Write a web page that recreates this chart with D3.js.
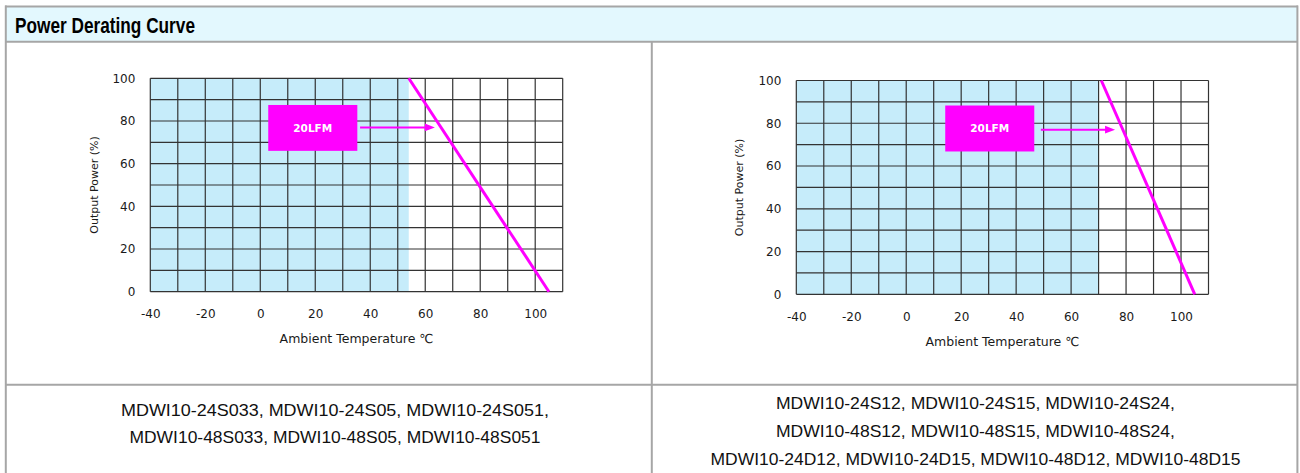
<!DOCTYPE html>
<html>
<head>
<meta charset="utf-8">
<script src="https://cdn.jsdelivr.net/npm/d3@7/dist/d3.min.js"></script>
<style>
  html, body { margin: 0; padding: 0; background: #ffffff; }
  svg { display: block; }
</style>
</head>
<body>
<svg id="chart" width="1300" height="473"></svg>
<script>
// ---------------- DATA ----------------
const pageTitle = "Power Derating Curve";
const xTickValues = [-40, -20, 0, 20, 40, 60, 80, 100];
const yTickValues = [0, 20, 40, 60, 80, 100];
const xGridValues = [-40, -30, -20, -10, 0, 10, 20, 30, 40, 50, 60, 70, 80, 90, 100, 110];
const yGridValues = [0, 10, 20, 30, 40, 50, 60, 70, 80, 90, 100];
const xAxisTitle = "Ambient Temperature \u2103";
const yAxisTitle = "Output Power (%)";
const airflowLabel = "20LFM";

// left chart derating curve
const leftTemps = [54, 105];
const leftPower = [100, 0];
const leftFullPowerLimit = 54;
// right chart derating curve
const rightTemps = [71, 105];
const rightPower = [100, 0];
const rightFullPowerLimit = 70;

const leftModels = [
  "MDWI10-24S033, MDWI10-24S05, MDWI10-24S051,",
  "MDWI10-48S033, MDWI10-48S05, MDWI10-48S051"
];
const rightModels = [
  "MDWI10-24S12, MDWI10-24S15, MDWI10-24S24,",
  "MDWI10-48S12, MDWI10-48S15, MDWI10-48S24,",
  "MDWI10-24D12, MDWI10-24D15, MDWI10-48D12, MDWI10-48D15"
];

// ---------------- LAYOUT ----------------
const svg = d3.select("#chart");
const borderColor = "#a6a6a6";
const gridColor = "#333333";
const shadeColor = "#c6ecfa";
const magenta = "#ff00ff";
const tickFont = "'DejaVu Sans', Verdana, sans-serif";

// table frame
svg.append("rect").attr("x", 6).attr("y", 7).attr("width", 1291).attr("height", 34)
  .attr("fill", "#e3f8fe");
const frame = svg.append("g").attr("stroke", borderColor).attr("stroke-width", 2).attr("fill", "none");
frame.append("line").attr("x1", 5).attr("x2", 1298).attr("y1", 6.5).attr("y2", 6.5);
frame.append("line").attr("x1", 5).attr("x2", 1298).attr("y1", 41.8).attr("y2", 41.8);
frame.append("line").attr("x1", 5).attr("x2", 1298).attr("y1", 384.8).attr("y2", 384.8);
frame.append("line").attr("x1", 5.8).attr("x2", 5.8).attr("y1", 5.5).attr("y2", 473);
frame.append("line").attr("x1", 1297.4).attr("x2", 1297.4).attr("y1", 5.5).attr("y2", 473);
frame.append("line").attr("x1", 651.8).attr("x2", 651.8).attr("y1", 41).attr("y2", 473);

svg.append("text").attr("x", 15).attr("y", 32.5)
  .attr("font-family", "'Liberation Sans', Arial, sans-serif")
  .attr("font-weight", "bold").attr("font-size", 22.5)
  .attr("textLength", 180).attr("lengthAdjust", "spacingAndGlyphs")
  .attr("fill", "#000").text(pageTitle);

// model lists
function modelBlock(lines, cx, baselines, widths) {
  lines.forEach((t, i) => {
    svg.append("text").attr("x", cx).attr("y", baselines[i])
      .attr("text-anchor", "middle")
      .attr("font-family", "'Liberation Sans', Arial, sans-serif")
      .attr("font-size", 17.3)
      .attr("textLength", widths[i]).attr("lengthAdjust", "spacingAndGlyphs")
      .attr("fill", "#111").text(t);
  });
}
modelBlock(leftModels, 335, [415.7, 443.3], [428, 411]);
modelBlock(rightModels, 975.5, [409.3, 437, 464.5], [399, 399, 530]);

// ---------------- CHART ----------------
function drawChart(cfg) {
  const x = d3.scaleLinear().domain([-40, 110]).range([cfg.left, cfg.right]);
  const y = d3.scaleLinear().domain([0, 100]).range([cfg.bottom, cfg.top]);
  const g = svg.append("g");

  // shaded full-power region
  g.append("rect")
    .attr("x", x(-40)).attr("y", y(100))
    .attr("width", x(cfg.limit) - x(-40)).attr("height", y(0) - y(100))
    .attr("fill", shadeColor);

  // grid
  g.selectAll(".vg").data(xGridValues).enter().append("line")
    .attr("x1", d => x(d)).attr("x2", d => x(d))
    .attr("y1", y(0)).attr("y2", y(100))
    .attr("stroke", gridColor).attr("stroke-width", 1.2);
  g.selectAll(".hg").data(yGridValues).enter().append("line")
    .attr("x1", x(-40)).attr("x2", x(110))
    .attr("y1", d => y(d)).attr("y2", d => y(d))
    .attr("stroke", gridColor).attr("stroke-width", 1.2);

  // axes (labels only)
  const fmt = d => String(d);
  const xAxis = g.append("g").attr("transform", `translate(0,${y(0)})`)
    .call(d3.axisBottom(x).tickValues(xTickValues).tickFormat(fmt).tickSize(0).tickPadding(cfg.xPad));
  const yAxis = g.append("g").attr("transform", `translate(${x(-40)},0)`)
    .call(d3.axisLeft(y).tickValues(yTickValues).tickFormat(fmt).tickSize(0).tickPadding(15));
  [xAxis, yAxis].forEach(a => {
    a.select(".domain").remove();
    a.selectAll("text").attr("font-family", tickFont).attr("font-size", 12).attr("fill", "#1a1a1a");
  });

  // derating curve
  const pts = cfg.temps.map((t, i) => [t, cfg.power[i]]);
  g.append("path").datum(pts)
    .attr("d", d3.line().x(d => x(d[0])).y(d => y(d[1])))
    .attr("fill", "none").attr("stroke", magenta).attr("stroke-width", 3);

  // annotation box
  const a = cfg.note;
  g.append("rect")
    .attr("x", x(a.x0)).attr("y", y(a.y0))
    .attr("width", x(a.x1) - x(a.x0)).attr("height", y(a.y1) - y(a.y0))
    .attr("fill", magenta);
  g.append("text")
    .attr("x", (x(a.x0) + x(a.x1)) / 2).attr("y", (y(a.y0) + y(a.y1)) / 2 + 4)
    .attr("text-anchor", "middle")
    .attr("font-family", tickFont).attr("font-weight", "bold").attr("font-size", 10.5)
    .attr("fill", "#ffffff").text(airflowLabel);
  // arrow
  const ay = y(a.ay);
  g.append("line")
    .attr("x1", x(a.ax0)).attr("x2", x(a.ax1) - 9)
    .attr("y1", ay).attr("y2", ay)
    .attr("stroke", magenta).attr("stroke-width", 2);
  const tx = x(a.ax1);
  g.append("path")
    .attr("d", `M${tx},${ay} L${tx - 10},${ay - 3.8} L${tx - 10},${ay + 3.8} Z`)
    .attr("fill", magenta);

  // axis titles
  g.append("text").attr("x", (x(-40) + x(110)) / 2).attr("y", cfg.xTitleY)
    .attr("text-anchor", "middle")
    .attr("font-family", tickFont).attr("font-size", 12.5).attr("fill", "#1a1a1a")
    .text(xAxisTitle);
  g.append("text")
    .attr("transform", `translate(${cfg.yTitleX},${(y(0) + y(100)) / 2}) rotate(-90)`)
    .attr("text-anchor", "middle")
    .attr("font-family", tickFont).attr("font-size", 11).attr("fill", "#1a1a1a")
    .text(yAxisTitle);
}

drawChart({
  left: 150.3, right: 562.7, top: 78.3, bottom: 291.7,
  temps: leftTemps, power: leftPower, limit: leftFullPowerLimit,
  note: { x0: 2.9, x1: 35.3, y0: 87.5, y1: 66, ax0: 36.3, ax1: 63.5, ay: 77 },
  xPad: 18, xTitleY: 342.5, yTitleX: 97.5
});
drawChart({
  left: 796.3, right: 1208.5, top: 80.5, bottom: 294.3,
  temps: rightTemps, power: rightPower, limit: rightFullPowerLimit,
  note: { x0: 14.2, x1: 46.6, y0: 88.3, y1: 66.8, ax0: 49, ax1: 76, ay: 77 },
  xPad: 18, xTitleY: 346, yTitleX: 743
});
</script>
</body>
</html>
